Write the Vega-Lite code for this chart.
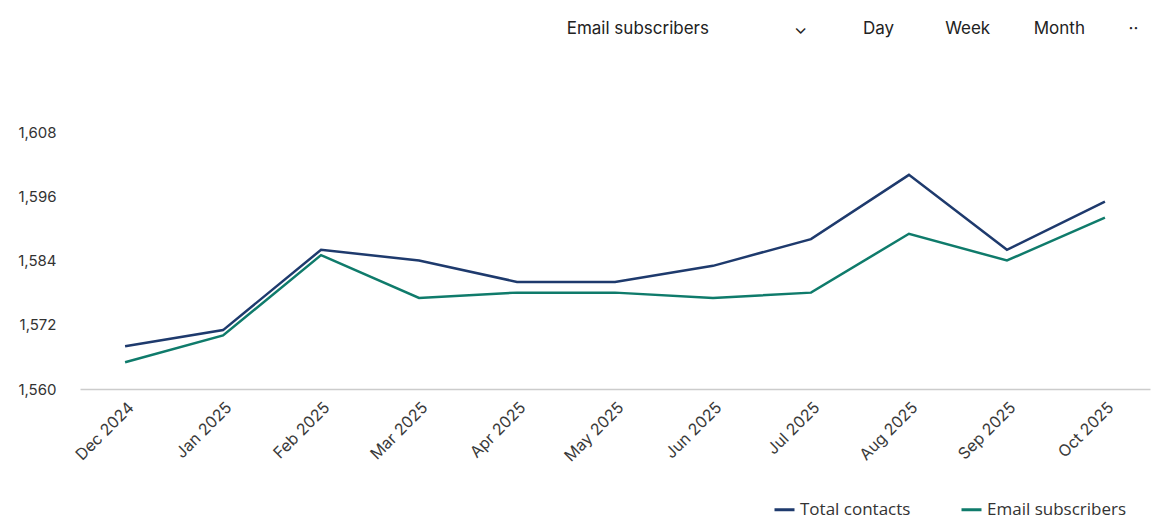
{
  "$schema": "https://vega.github.io/schema/vega-lite/v6.json",
  "autosize": "none",
  "width": 1070,
  "height": 257,
  "padding": {"left": 80, "top": 132, "right": 6, "bottom": 132},
  "background": "white",
  "title": {
    "text": "Email subscribers\u2003\u2003\u2003\u2003\u2003⌄\u2003\u2003\u2003\u00a0Day\u2003\u2003\u2003Week\u2003\u2003\u00a0\u00a0Month\u2003\u2003\u00a0\u00a0··",
    "anchor": "start",
    "orient": "top",
    "offset": 87,
    "dx": 549,
    "fontSize": 17,
    "fontWeight": "normal",
    "font": "Inter",
    "color": "#222222"
  },
  "data": {
    "values": [
      {"month": "Dec 2024", "series": "Total contacts", "value": 1568},
      {"month": "Jan 2025", "series": "Total contacts", "value": 1571},
      {"month": "Feb 2025", "series": "Total contacts", "value": 1586},
      {"month": "Mar 2025", "series": "Total contacts", "value": 1584},
      {"month": "Apr 2025", "series": "Total contacts", "value": 1580},
      {"month": "May 2025", "series": "Total contacts", "value": 1580},
      {"month": "Jun 2025", "series": "Total contacts", "value": 1583},
      {"month": "Jul 2025", "series": "Total contacts", "value": 1588},
      {"month": "Aug 2025", "series": "Total contacts", "value": 1600},
      {"month": "Sep 2025", "series": "Total contacts", "value": 1586},
      {"month": "Oct 2025", "series": "Total contacts", "value": 1595},
      {"month": "Dec 2024", "series": "Email subscribers", "value": 1565},
      {"month": "Jan 2025", "series": "Email subscribers", "value": 1570},
      {"month": "Feb 2025", "series": "Email subscribers", "value": 1585},
      {"month": "Mar 2025", "series": "Email subscribers", "value": 1577},
      {"month": "Apr 2025", "series": "Email subscribers", "value": 1578},
      {"month": "May 2025", "series": "Email subscribers", "value": 1578},
      {"month": "Jun 2025", "series": "Email subscribers", "value": 1577},
      {"month": "Jul 2025", "series": "Email subscribers", "value": 1578},
      {"month": "Aug 2025", "series": "Email subscribers", "value": 1589},
      {"month": "Sep 2025", "series": "Email subscribers", "value": 1584},
      {"month": "Oct 2025", "series": "Email subscribers", "value": 1592}
    ]
  },
  "mark": {"type": "line", "strokeWidth": 2.5},
  "encoding": {
    "x": {
      "field": "month",
      "type": "ordinal",
      "sort": null,
      "scale": {"type": "point", "padding": 0.46},
      "axis": {
        "title": null,
        "labelAngle": -45,
        "labelFontSize": 16,
        "labelFont": "Inter",
        "labelColor": "#3a3a3a",
        "ticks": false,
        "labelPadding": 10,
        "domainColor": "#cccccc",
        "domainWidth": 1.5,
        "grid": false
      }
    },
    "y": {
      "field": "value",
      "type": "quantitative",
      "scale": {"domain": [1560, 1608], "zero": false, "nice": false},
      "axis": {
        "title": null,
        "values": [1560, 1572, 1584, 1596, 1608],
        "format": ",.0f",
        "grid": false,
        "ticks": false,
        "domain": false,
        "labelFontSize": 15,
        "labelFont": "Inter",
        "labelColor": "#333333",
        "labelPadding": 24
      }
    },
    "color": {
      "field": "series",
      "type": "nominal",
      "scale": {
        "domain": ["Total contacts", "Email subscribers"],
        "range": ["#1e3a6d", "#0f7b6b"]
      },
      "legend": {
        "title": null,
        "orient": "none",
        "direction": "horizontal",
        "legendX": 693,
        "legendY": 366,
        "symbolType": "stroke",
        "symbolStrokeWidth": 3,
        "symbolSize": 400,
        "labelFontSize": 17,
        "labelFont": "Open Sans",
        "labelColor": "#333333",
        "columnPadding": 44
      }
    }
  },
  "config": {"view": {"stroke": null}}
}
